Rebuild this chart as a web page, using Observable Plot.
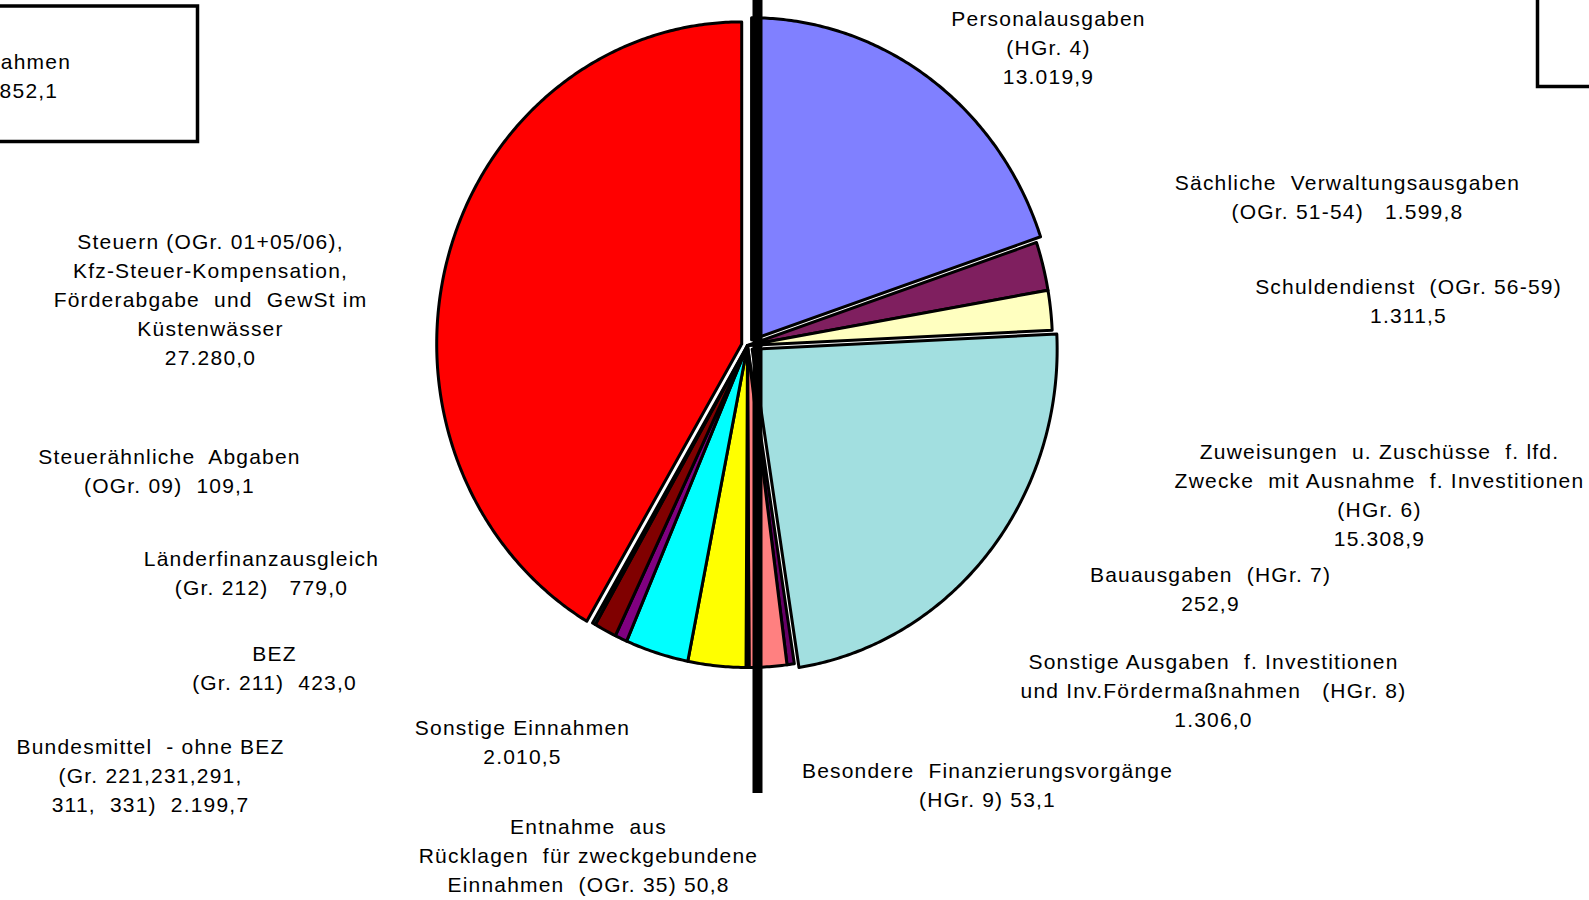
<!DOCTYPE html>
<html>
<head>
<meta charset="utf-8">
<script src="https://cdn.jsdelivr.net/npm/d3@7"></script>
<script src="https://cdn.jsdelivr.net/npm/@observablehq/plot@0.6"></script>
<style>
  html, body { margin: 0; padding: 0; background: #fff; overflow: hidden; }
  #chart svg text { white-space: pre; }
</style>
</head>
<body>
<div id="chart"></div>
<script>
// ---------- DATA ----------
// Ausgaben (right half, clockwise from 12 o'clock)
const ausgabenLabels = [
  "Personalausgaben\n(HGr. 4)\n{v}",
  "Sächliche  Verwaltungsausgaben\n(OGr. 51-54)   {v}",
  "Schuldendienst  (OGr. 56-59)\n{v}",
  "Zuweisungen  u. Zuschüsse  f. lfd.\nZwecke  mit Ausnahme  f. Investitionen\n(HGr. 6)\n{v}",
  "Bauausgaben  (HGr. 7)\n{v}",
  "Sonstige Ausgaben  f. Investitionen\nund Inv.Fördermaßnahmen   (HGr. 8)\n{v}",
  "Besondere  Finanzierungsvorgänge\n(HGr. 9) {v}"
];
const ausgabenValues = [13019.9, 1599.8, 1311.5, 15308.9, 252.9, 1306.0, 53.1];
const ausgabenColors = ["#8080FF", "#7F1F5F", "#FFFFC0", "#A2DFE0", "#660066", "#FF8080", "#0066CC"];

// Einnahmen (left half, clockwise from 6 o'clock)
const einnahmenLabels = [
  "Entnahme  aus\nRücklagen  für zweckgebundene\nEinnahmen  (OGr. 35) {v}",
  "Sonstige Einnahmen\n{v}",
  "Bundesmittel  - ohne BEZ\n(Gr. 221,231,291,\n311,  331)  {v}",
  "BEZ\n(Gr. 211)  {v}",
  "Länderfinanzausgleich\n(Gr. 212)   {v}",
  "Steuerähnliche  Abgaben\n(OGr. 09)  {v}",
  "Steuern (OGr. 01+05/06),\nKfz-Steuer-Kompensation,\nFörderabgabe  und  GewSt im\nKüstenwässer\n{v}"
];
const einnahmenValues = [50.8, 2010.5, 2199.7, 423.0, 779.0, 109.1, 27280.0];
const einnahmenColors = ["#FF00FF", "#FFFF00", "#00FFFF", "#800080", "#800000", "#008080", "#FF0000"];

const totalLabels = ["Einnahmen\n{v}"];
const totalValues = [d3.sum(einnahmenValues)];

// ---------- LAYOUT ----------
const W = 1589, H = 900;
const CX = 747, CY = 345, RX = 305, RY = 322;
const explodeA = [7, 0, 0, 6, 0, 0, 0];
const explodeE = [0, 0, 0, 0, 0, 0, 6];
// label anchor: [x center, y of first line centre]
const ausgabenLabelPos = [[1048, 16.5], [1347, 180.5], [1408, 284.5], [1379, 449.5], [1210, 572.5], [1213, 659.5], [987, 768.5]];
const einnahmenLabelPos = [[588, 824.5], [522, 725.5], [150, 744.5], [274, 651.5], [261, 556.5], [169, 454.5], [210, 239.5]];
const totalLabelPos = [[12, 59.5]];
const FS = 21, LH = 29;

const fmt = d3.formatLocale({decimal: ",", thousands: ".", grouping: [3], currency: ["", ""]}).format(",.1f");

// ---------- BUILD ----------
const slices = [
  ...ausgabenValues.map((v, i) => ({key: "A" + i, value: v, color: ausgabenColors[i], label: ausgabenLabels[i], pos: ausgabenLabelPos[i], explode: explodeA[i]})),
  ...einnahmenValues.map((v, i) => ({key: "E" + i, value: v, color: einnahmenColors[i], label: einnahmenLabels[i], pos: einnahmenLabelPos[i], explode: explodeE[i]}))
];
const arcs = d3.pie().sort(null).value(d => d.value)(slices);

const pts = [];
arcs.forEach(a => {
  const s = a.data;
  const mid = (a.startAngle + a.endAngle) / 2;
  const ox = s.explode * Math.sin(mid), oy = -s.explode * Math.cos(mid);
  const cx = CX + ox, cy = CY + oy;
  pts.push({key: s.key, color: s.color, x: cx, y: cy});
  const n = Math.max(2, Math.ceil((a.endAngle - a.startAngle) / (Math.PI / 360)));
  for (let k = 0; k <= n; k++) {
    const t = a.startAngle + (a.endAngle - a.startAngle) * k / n;
    pts.push({key: s.key, color: s.color, x: cx + RX * Math.sin(t), y: cy - RY * Math.cos(t)});
  }
  pts.push({key: s.key, color: s.color, x: cx, y: cy});
});

const labels = slices.map(s => {
  const lines = s.label.split("\n").length;
  return {text: s.label.replace("{v}", fmt(s.value)), x: s.pos[0], y: s.pos[1] + (lines - 1) * LH / 2};
});
totalLabels.forEach((l, i) => {
  const lines = l.split("\n").length;
  labels.push({text: l.replace("{v}", fmt(totalValues[i])), x: totalLabelPos[i][0], y: totalLabelPos[i][1] + (lines - 1) * LH / 2});
});

const boxes = [
  {x1: -170, x2: 197.5, y1: 6, y2: 141.5},
  {x1: 1537.5, x2: 1800, y1: -100, y2: 86.5}
];
const separator = [{x: 757, y1: 0, y2: 793}];

const chart = Plot.plot({
  width: W, height: H, margin: 0,
  x: {domain: [0, W], range: [0, W], axis: null},
  y: {domain: [0, H], range: [0, H], axis: null},
  color: {type: "identity"},
  style: {fontFamily: "'Liberation Sans', Arial, sans-serif", background: "#fff", letterSpacing: "1.2px", overflow: "hidden"},
  marks: [
    Plot.rect(boxes, {x1: "x1", x2: "x2", y1: "y1", y2: "y2", fill: "none", stroke: "black", strokeWidth: 3.5}),
    Plot.line(pts, {x: "x", y: "y", z: "key", fill: "color", stroke: "black", strokeWidth: 3, curve: "linear"}),
    Plot.ruleX(separator, {x: "x", y1: "y1", y2: "y2", stroke: "black", strokeWidth: 10, strokeLinecap: "butt"}),
    Plot.text(labels, {x: "x", y: "y", text: "text", fontSize: FS, lineHeight: LH / FS, textAnchor: "middle", lineAnchor: "middle", fill: "black"})
  ]
});
document.getElementById("chart").appendChild(chart);
</script>
</body>
</html>
